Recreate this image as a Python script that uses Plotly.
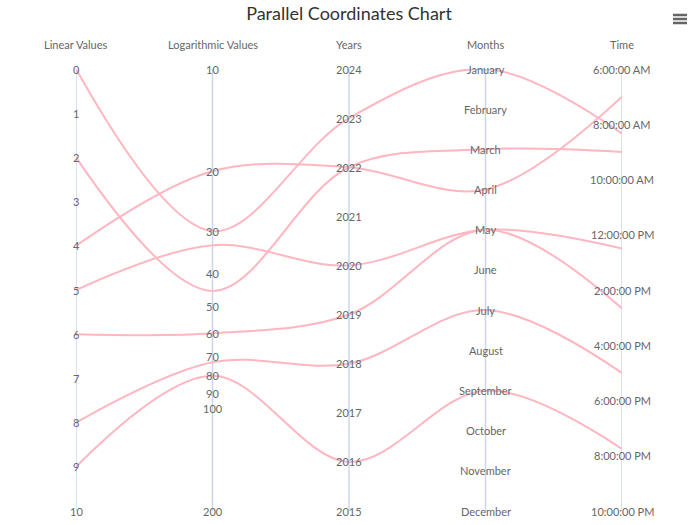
import math
import plotly.graph_objects as go

axis_titles = ['Linear Values', 'Logarithmic Values', 'Years', 'Months', 'Time']

# one entry per line
linear_values = [0, 2, 4, 5, 6, 8, 9]
log_values = [30, 45, 20, 33, 60, 73, 80]
years = [2023, 2022, 2022, 2020, 2019, 2018, 2016]
months = ['January', 'March', 'April', 'May', 'May', 'July', 'September']
times = ['08:20', '09:00', '07:00', '12:30', '14:40', '17:00', '19:45']

linear_ticks = [0, 1, 2, 3, 4, 5, 6, 7, 8, 9, 10]
log_ticks = [10, 20, 30, 40, 50, 60, 70, 80, 90, 100, 200]
year_ticks = [2015, 2016, 2017, 2018, 2019, 2020, 2021, 2022, 2023, 2024]
month_names = ['January', 'February', 'March', 'April', 'May', 'June', 'July',
               'August', 'September', 'October', 'November', 'December']
time_ticks = ['06:00', '08:00', '10:00', '12:00', '14:00', '16:00', '18:00', '20:00', '22:00']
time_tick_labels = ['6:00:00 AM', '8:00:00 AM', '10:00:00 AM', '12:00:00 PM', '2:00:00 PM',
                    '4:00:00 PM', '6:00:00 PM', '8:00:00 PM', '10:00:00 PM']

LINE_COLOR = '#ffb6c1'
AXIS_COLOR = '#ccd6eb'
LABEL_COLOR = '#666666'
FONT = 'Lato'


def scale_linear(v):
    return v / 10


def scale_log(v):
    return math.log10(v / 10) / math.log10(20)


def scale_year(v):
    return (2024 - v) / 9


def scale_month(m):
    return month_names.index(m) / 11


def scale_time(t):
    h, m = t.split(':')
    return (int(h) + int(m) / 60 - 6) / 16


fig = go.Figure()

for i in range(len(linear_values)):
    fig.add_trace(go.Scatter(
        x=[0, 1, 2, 3, 4],
        y=[scale_linear(linear_values[i]), scale_log(log_values[i]), scale_year(years[i]),
           scale_month(months[i]), scale_time(times[i])],
        mode='lines',
        line=dict(color=LINE_COLOR, width=2, shape='spline', smoothing=1),
        hoverinfo='skip',
        showlegend=False
    ))

# vertical axis lines
for k in range(len(axis_titles)):
    fig.add_shape(type='line', xref='x', yref='y', x0=k, x1=k, y0=0, y1=1,
                  line=dict(color=AXIS_COLOR, width=1.5), layer='below')

# tick labels, centred on each axis
tick_sets = [
    ([scale_linear(v) for v in linear_ticks], [str(v) for v in linear_ticks]),
    ([scale_log(v) for v in log_ticks], [str(v) for v in log_ticks]),
    ([scale_year(v) for v in year_ticks], [str(v) for v in year_ticks]),
    ([scale_month(m) for m in month_names], month_names),
    ([scale_time(t) for t in time_ticks], time_tick_labels),
]
for k, (pos, labels) in enumerate(tick_sets):
    for p, lab in zip(pos, labels):
        fig.add_annotation(x=k, y=p, xref='x', yref='y', text=lab, showarrow=False,
                           font=dict(family=FONT, size=11, color=LABEL_COLOR),
                           xanchor='center', yanchor='middle')

for k, title in enumerate(axis_titles):
    fig.add_annotation(x=k, y=1 + 24 / 442, xref='x', yref='paper', text=title,
                       showarrow=False, font=dict(family=FONT, size=11, color=LABEL_COLOR),
                       xanchor='center', yanchor='middle')

# export menu icon
for py in [15, 19, 23]:
    fig.add_shape(type='line', xref='paper', yref='paper',
                  x0=(673 - 76) / 546, x1=(687 - 76) / 546,
                  y0=(511 - py) / 442, y1=(511 - py) / 442,
                  line=dict(color=LABEL_COLOR, width=2.5))

fig.update_layout(
    width=700, height=525,
    margin=dict(l=76, r=78, t=69, b=14),
    paper_bgcolor='white', plot_bgcolor='white',
    title=dict(text='Parallel Coordinates Chart', x=349 / 700, xanchor='center',
               y=1 - 14 / 525, yanchor='middle', yref='container',
               font=dict(family=FONT, size=18, color='#333333')),
    xaxis=dict(range=[0, 4], visible=False, fixedrange=True),
    yaxis=dict(range=[1, 0], visible=False, fixedrange=True),
)

# drop the default 8px page margin so the figure sits at the window's corner
fig.write_html('out.html', config={'displayModeBar': False},
               post_script="document.body.style.margin = '0px';")
